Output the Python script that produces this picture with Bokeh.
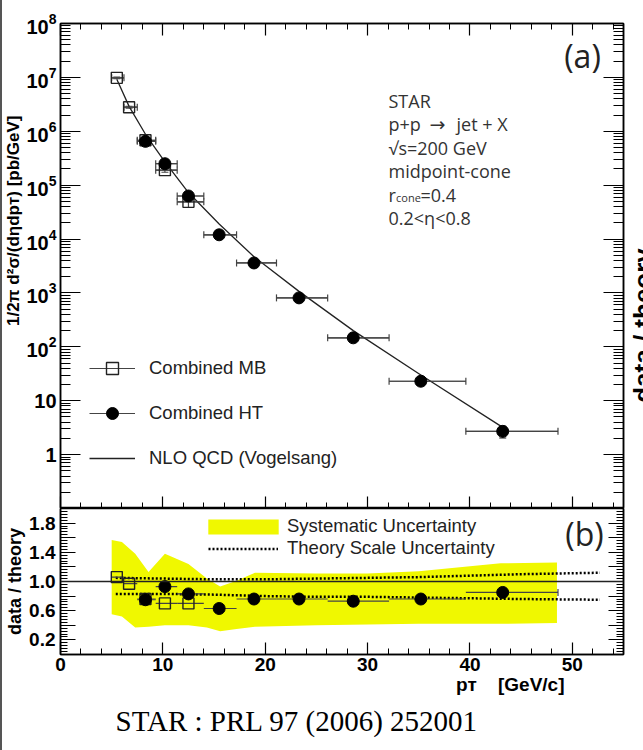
import math
from bokeh.plotting import figure
from bokeh.layouts import column
from bokeh.models import (ColumnDataSource, Whisker, TeeHead, Legend, LegendItem, Label, Title,
                          LinearAxis, FixedTicker, SingleIntervalTicker, PrintfTickFormatter,
                          LogTickFormatter, CustomJSTickFormatter, Range1d, Span)
from bokeh.embed import file_html
from bokeh.resources import INLINE

# ---------------- data ----------------
mb_pt = [5.5, 6.7, 8.3, 10.2, 12.5]
mb_bin_lo = [5.0, 6.2, 7.5, 9.3, 11.4]
mb_bin_hi = [6.2, 7.5, 9.3, 11.4, 14.0]
mb_xsec = [9.8e6, 2.8e6, 6.8e5, 1.9e5, 4.9e4]
mb_ratio = [1.06, 0.97, 0.76, 0.70, 0.70]
mb_ratio_err = [0.04, 0.04, 0.06, 0.06, 0.15]

ht_pt = [8.3, 10.2, 12.5, 15.5, 18.9, 23.3, 28.6, 35.2, 43.2]
ht_bin_lo = [7.5, 9.3, 11.4, 14.0, 17.2, 21.1, 26.1, 32.1, 39.6]
ht_bin_hi = [9.3, 11.4, 14.0, 17.2, 21.1, 26.1, 32.1, 39.6, 48.6]
ht_xsec = [6.5e5, 2.5e5, 6.3e4, 1.2e4, 3.6e3, 8.1e2, 1.47e2, 23.0, 2.7]
ht_ratio = [0.75, 0.93, 0.83, 0.63, 0.76, 0.76, 0.73, 0.76, 0.85]
ht_ratio_err = [0.10, 0.04, 0.04, 0.03, 0.03, 0.03, 0.04, 0.07, 0.21]

nlo_pt = [5.5, 6.7, 8.3, 10.2, 12.5, 15.5, 18.9, 23.3, 28.6, 35.2, 43.2]
nlo_xsec = [9.2e6, 2.9e6, 8.8e5, 2.7e5, 7.3e4, 1.9e4, 4.7e3, 1.07e3, 2.0e2, 30.0, 3.2]

scale_pt = [5.4, 10, 15, 20, 25, 30, 35, 40, 45, 52.7]
scale_up = [1.05, 1.04, 1.03, 1.03, 1.04, 1.05, 1.06, 1.08, 1.10, 1.12]
scale_dn = [0.83, 0.83, 0.82, 0.80, 0.79, 0.79, 0.78, 0.77, 0.76, 0.75]

sys_pt = [5.0, 6.0, 7.3, 8.6, 10.2, 12.5, 14.3, 15.6, 17.2, 19.0, 25.0, 30.0, 35.0, 38.0, 43.0, 48.5]
sys_hi = [1.57, 1.54, 1.38, 1.13, 1.38, 1.24, 1.04, 0.93, 1.01, 1.12, 1.11, 1.11, 1.14, 1.18, 1.25, 1.26]
sys_lo = [0.55, 0.52, 0.37, 0.38, 0.40, 0.40, 0.37, 0.32, 0.35, 0.38, 0.40, 0.41, 0.42, 0.42, 0.42, 0.43]

ratio_major = [0.2, 0.4, 0.6, 0.8, 1.0, 1.2, 1.4, 1.6, 1.8]
ratio_labelled = [0.2, 0.6, 1.0, 1.4, 1.8]

# ---------------- layout helpers (page pixels -> data) ----------------
X_MIN, X_MAX = 0, 55
L_PX, R_PX, T_PX, M_PX, B_PX = 60, 623, 23, 508, 654
LOG_MIN, LOG_MAX = -1, 8


def tx(px):
    return X_MIN + (px - L_PX) / (R_PX - L_PX) * (X_MAX - X_MIN)


def ty_top(py):
    return 10 ** (LOG_MAX - (py - T_PX) / (M_PX - T_PX) * (LOG_MAX - LOG_MIN))


def ty_bot(py):
    return (B_PX - py) / (B_PX - M_PX) * 2.0


BORDER = 2
AX_FONT = "Liberation Sans"
TXT = "#222222"


def style_axis(ax, labels, major_in, minor_in, size="19px"):
    ax.axis_line_color = "black"
    ax.axis_line_width = 1.5
    ax.major_tick_in = major_in
    ax.major_tick_out = 0
    ax.minor_tick_in = minor_in
    ax.minor_tick_out = 0
    ax.major_tick_line_color = "black"
    ax.minor_tick_line_color = "black"
    ax.major_tick_line_width = 1.2
    ax.minor_tick_line_width = 1
    ax.axis_label = None
    if labels:
        ax.major_label_text_font = AX_FONT
        ax.major_label_text_font_style = "bold"
        ax.major_label_text_font_size = size
        ax.major_label_text_color = "black"
    else:
        ax.formatter = CustomJSTickFormatter(code="return ''")
        ax.major_label_text_font_size = "1px"
        ax.major_label_standoff = 0


# ================= top panel =================
p1 = figure(frame_width=R_PX - L_PX, frame_height=M_PX - T_PX, x_range=Range1d(X_MIN, X_MAX),
            y_range=Range1d(10 ** LOG_MIN, 10 ** LOG_MAX), y_axis_type="log",
            output_backend="svg", toolbar_location=None,
            min_border_left=L_PX - BORDER, min_border_right=643 - R_PX,
            min_border_top=T_PX, min_border_bottom=0)
p1.grid.visible = False
p1.outline_line_color = "black"
p1.outline_line_width = 1.5
p1.background_fill_color = "white"
p1.border_fill_color = "white"

xt = SingleIntervalTicker(interval=10, num_minor_ticks=5)
y_major = [10 ** k for k in range(0, LOG_MAX + 1)]
y_minor = [m * 10 ** k for k in range(LOG_MIN, LOG_MAX) for m in range(2, 10)]
yt = FixedTicker(ticks=y_major, minor_ticks=y_minor)

p1.xaxis.ticker = xt
style_axis(p1.xaxis[0], False, 12, 6)
p1.yaxis.ticker = yt
p1.yaxis.formatter = LogTickFormatter(min_exponent=2)
style_axis(p1.yaxis[0], True, 20, 10, "20px")
p1.yaxis.major_label_standoff = 4

ax_top = LinearAxis(ticker=xt)
style_axis(ax_top, False, 12, 6)
p1.add_layout(ax_top, "above")
ax_right = LinearAxis(ticker=yt)
style_axis(ax_right, False, 20, 10)
p1.add_layout(ax_right, "right")

# y axis title (top panel)
p1.add_layout(Title(text="1/2\u03c0 d\u00b2\u03c3/(d\u03b7dp\u1d1b) [pb/GeV]", align="right",
                    offset=92, standoff=0, vertical_align="middle", text_font=AX_FONT,
                    text_font_style="bold", text_font_size="17px", text_color="black"), "left")

# NLO curve
nlo_line = p1.line(nlo_pt, nlo_xsec, line_color="#222222", line_width=1.3)

# data sources
mb_src = ColumnDataSource(dict(
    x=mb_pt, lo=mb_bin_lo, hi=mb_bin_hi, y=mb_xsec,
    ylo=[v * (1 - e / r) for v, e, r in zip(mb_xsec, mb_ratio_err, mb_ratio)],
    yhi=[v * (1 + e / r) for v, e, r in zip(mb_xsec, mb_ratio_err, mb_ratio)],
    r=mb_ratio,
    rlo=[r - e for r, e in zip(mb_ratio, mb_ratio_err)],
    rhi=[r + e for r, e in zip(mb_ratio, mb_ratio_err)],
))
ht_src = ColumnDataSource(dict(
    x=ht_pt, lo=ht_bin_lo, hi=ht_bin_hi, y=ht_xsec,
    ylo=[v * (1 - e / r) for v, e, r in zip(ht_xsec, ht_ratio_err, ht_ratio)],
    yhi=[v * (1 + e / r) for v, e, r in zip(ht_xsec, ht_ratio_err, ht_ratio)],
    r=ht_ratio,
    rlo=[r - e for r, e in zip(ht_ratio, ht_ratio_err)],
    rhi=[r + e for r, e in zip(ht_ratio, ht_ratio_err)],
))

ERR = "#444444"


def add_errors(p, src, ycol, ylo, yhi):
    seg = p.segment(x0="lo", y0=ycol, x1="hi", y1=ycol, source=src,
                    line_color=ERR, line_width=1.2)
    wx = Whisker(source=src, base=ycol, lower="lo", upper="hi", dimension="width",
                 line_color=ERR, line_width=1.2,
                 lower_head=TeeHead(size=7, line_color=ERR, line_width=1.2),
                 upper_head=TeeHead(size=7, line_color=ERR, line_width=1.2))
    wy = Whisker(source=src, base="x", lower=ylo, upper=yhi, dimension="height",
                 line_color=ERR, line_width=1.2,
                 lower_head=TeeHead(size=7, line_color=ERR, line_width=1.2),
                 upper_head=TeeHead(size=7, line_color=ERR, line_width=1.2))
    p.add_layout(wx)
    p.add_layout(wy)
    return seg


mb_seg = add_errors(p1, mb_src, "y", "ylo", "yhi")
mb_sc = p1.scatter("x", "y", source=mb_src, marker="square", size=11,
                   fill_alpha=0, line_color="#222222", line_width=1.4)
ht_seg = add_errors(p1, ht_src, "y", "ylo", "yhi")
ht_sc = p1.scatter("x", "y", source=ht_src, marker="circle", size=12,
                   fill_color="black", line_color="black")

leg1 = Legend(items=[LegendItem(label="Combined MB", renderers=[mb_seg, mb_sc]),
                     LegendItem(label="Combined HT", renderers=[ht_seg, ht_sc]),
                     LegendItem(label="NLO QCD (Vogelsang)", renderers=[nlo_line])],
              location=(29, 35), orientation="vertical",
              background_fill_alpha=0, border_line_alpha=0, padding=0, margin=0,
              spacing=15, glyph_width=46, glyph_height=30, label_height=30,
              label_standoff=14, label_text_font=AX_FONT,
              label_text_font_size="18.5px", label_text_color=TXT)
p1.add_layout(leg1)

# annotation block
ANN_FONT = "Open Sans"
ANN_COL = "#333333"


def ann(px, py, text, size="18px", font=ANN_FONT):
    p1.add_layout(Label(x=tx(px), y=ty_top(py), text=text, text_font=font,
                        text_font_size=size, text_color=ANN_COL, text_baseline="alphabetic"))


ann_lines = ["STAR", None, "\u221as=200  GeV", "midpoint-cone", None, "0.2<\u03b7<0.8"]
for i, t in enumerate(ann_lines):
    base = 100 + 23.5 * i
    if i == 1:
        ann(388, base, "p+p")
        ann(429, base, "\u2192", size="19px", font="DejaVu Sans")
        ann(456, base, "jet + X")
    elif i == 4:
        ann(388, base, "r")
        ann(395.5, base + 3, "cone", size="11px")
        ann(420, base, "=0.4")
    else:
        ann(388, base, t)

p1.add_layout(Label(x=tx(582), y=ty_top(55), text="(a)", text_font=ANN_FONT,
                    text_font_size="32px", text_color=TXT, text_align="center",
                    text_baseline="middle"))

# label that is cut off at the right edge of the original picture (right side panel)
p1.add_layout(Label(x=643.5 - R_PX - 1, y=M_PX - 325, x_units="screen", y_units="screen",
                    text="data / theory", angle=math.pi / 2,
                    text_font=AX_FONT, text_font_style="bold", text_font_size="26px",
                    text_color="black", text_align="center", text_baseline="alphabetic"), "right")

# ================= bottom panel =================
p2 = figure(frame_width=R_PX - L_PX, frame_height=B_PX - M_PX, x_range=p1.x_range,
            y_range=Range1d(0, 2),
            output_backend="svg", toolbar_location=None,
            min_border_left=L_PX - BORDER, min_border_right=643 - R_PX,
            min_border_top=0, min_border_bottom=750 - B_PX)
p2.grid.visible = False
p2.outline_line_color = "black"
p2.outline_line_width = 1.5
p2.background_fill_color = "white"
p2.border_fill_color = "white"

p2.xaxis.ticker = xt
style_axis(p2.xaxis[0], True, 12, 6)
p2.xaxis.major_label_standoff = 3

rt = FixedTicker(ticks=ratio_major, minor_ticks=[round(0.04 * i, 2) for i in range(1, 50)])
p2.yaxis.ticker = rt
p2.yaxis.formatter = PrintfTickFormatter(format="%.1f")
style_axis(p2.yaxis[0], True, 15, 7)
p2.yaxis.major_label_standoff = 5
p2.yaxis.major_label_overrides = {v: "" for v in ratio_major if v not in ratio_labelled}

ax2_right = LinearAxis(ticker=rt)
style_axis(ax2_right, False, 15, 7)
p2.add_layout(ax2_right, "right")

p2.add_layout(Title(text="data / theory", align="center", standoff=2, vertical_align="middle",
                    text_font=AX_FONT, text_font_style="bold", text_font_size="18px",
                    text_color="black"), "left")
p2.add_layout(Title(text="p\u1d1b\u00a0\u00a0\u00a0\u00a0[GeV/c]", align="right", offset=R_PX - 564,
                    standoff=0, vertical_align="top", text_font=AX_FONT, text_font_style="bold",
                    text_font_size="19px", text_color="black"), "below")
p2.add_layout(Title(text="STAR : PRL 97 (2006) 252001", align="left", offset=115 - L_PX,
                    standoff=16, vertical_align="top", text_font="Liberation Serif",
                    text_font_style="normal", text_font_size="29px", text_color="black"), "below")

YEL = "#f0f800"
band = p2.varea(x=sys_pt, y1=sys_lo, y2=sys_hi, fill_color=YEL, fill_alpha=1)
up_line = p2.line(scale_pt, scale_up, line_color="black", line_width=2.5, line_dash="2 2")
p2.line(scale_pt, scale_dn, line_color="black", line_width=2.5, line_dash="2 2")
p2.add_layout(Span(location=1.0, dimension="width", line_color="#222222", line_width=1.3))

add_errors(p2, mb_src, "r", "rlo", "rhi")
p2.scatter("x", "r", source=mb_src, marker="square", size=11,
           fill_alpha=0, line_color="#222222", line_width=1.4)
add_errors(p2, ht_src, "r", "rlo", "rhi")
p2.scatter("x", "r", source=ht_src, marker="circle", size=12,
           fill_color="black", line_color="black")

LEG_KW = dict(orientation="vertical", background_fill_alpha=0, border_line_alpha=0,
              padding=0, margin=0, spacing=0, label_text_font=AX_FONT,
              label_text_font_size="18.5px", label_text_color=TXT)
leg2a = Legend(items=[LegendItem(label="Systematic Uncertainty", renderers=[band])],
               location=(139, 117), glyph_width=88, glyph_height=19,
               label_height=15, label_standoff=0, **LEG_KW)
leg2b = Legend(items=[LegendItem(label="Theory Scale Uncertainty", renderers=[up_line])],
               location=(148, 95), glyph_width=70, glyph_height=15,
               label_height=15, label_standoff=9, **LEG_KW)
p2.add_layout(leg2a)
p2.add_layout(leg2b)

p2.add_layout(Label(x=tx(584), y=ty_bot(533), text="(b)", text_font=ANN_FONT,
                    text_font_size="32px", text_color=TXT, text_align="center",
                    text_baseline="middle"))

layout = column(p1, p2, spacing=0, styles={"border-left": "2px solid #555555"})

open("out.html", "w").write(file_html(layout, INLINE))
